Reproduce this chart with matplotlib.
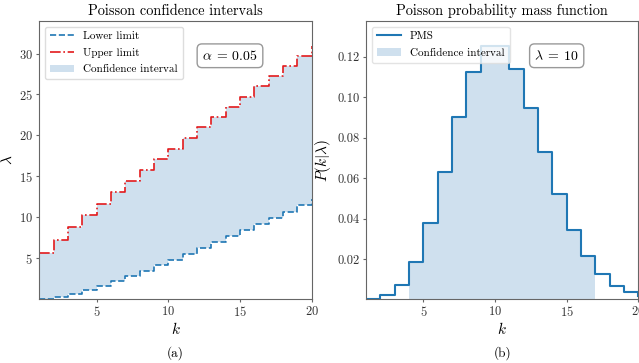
import numpy as np
import matplotlib
matplotlib.use('Agg')
import matplotlib.pyplot as plt

plt.rcParams['font.family'] = 'serif'
plt.rcParams['font.serif'] = ['cmr10', 'DejaVu Serif']
plt.rcParams['mathtext.fontset'] = 'cm'
plt.rcParams['axes.formatter.use_mathtext'] = True
plt.rcParams['axes.unicode_minus'] = False

# Poisson confidence limits (alpha = 0.05) for k = 1..20
k = np.arange(1, 21)
lower = [0.0253, 0.242, 0.619, 1.090, 1.623, 2.202, 2.814, 3.454, 4.115, 4.795,
         5.491, 6.201, 6.922, 7.654, 8.395, 9.145, 9.903, 10.668, 11.439, 12.217]
upper = [5.572, 7.225, 8.767, 10.242, 11.668, 13.059, 14.423, 15.763, 17.085, 18.390,
         19.682, 20.962, 22.230, 23.490, 24.740, 25.983, 27.219, 28.448, 29.671, 30.888]

# Poisson pmf, lambda = 10, k = 1..20
pmf = [0.000454, 0.00227, 0.00757, 0.01892, 0.03783, 0.06306, 0.09008, 0.1126, 0.1251, 0.1251,
       0.1137, 0.09478, 0.07291, 0.05208, 0.03472, 0.0217, 0.01276, 0.00709, 0.00373, 0.00187]
ci_lo, ci_hi = 4, 17

fill_color = '#cfe0ee'
spine_color = '#666666'

fig = plt.figure(figsize=(6.39, 3.63), dpi=100)
ax1 = fig.add_axes([0.0615, 0.1763, 0.4263, 0.7658])
ax2 = fig.add_axes([0.5728, 0.1763, 0.4263, 0.7658])

# (a) confidence intervals
ax1.step(k, lower, where='post', color='#1f77b4', ls='--', lw=1.2, label='Lower limit')
ax1.step(k, upper, where='post', color='#e31a1c', ls='-.', lw=1.2, label='Upper limit')
ax1.fill_between(k, lower, upper, step='post', color=fill_color, lw=0,
                 label='Confidence interval')
ax1.set_xlim(1, 20)
ax1.set_ylim(0, max(upper) * 1.1)
ax1.set_xticks([5, 10, 15, 20])
ax1.set_yticks([5, 10, 15, 20, 25, 30])
ax1.set_xlabel('$k$', fontsize=11, labelpad=1)
ax1.set_ylabel(r'$\lambda$', fontsize=11, labelpad=3)
ax1.set_title('Poisson confidence intervals', fontsize=10.3, pad=4)
ax1.legend(loc='upper left', fontsize=8, framealpha=1, edgecolor='#dddddd',
           handlelength=2.2, borderpad=0.45, labelspacing=0.6)
ax1.text(0.70, 0.875, r'$\alpha\:=\:0.05$', transform=ax1.transAxes, fontsize=10,
         ha='center', va='center',
         bbox=dict(boxstyle='round,pad=0.35', fc='white', ec='#999999'))
ax1.text(0.5, -0.17, '(a)', transform=ax1.transAxes, fontsize=9.5, ha='center', va='top')

# (b) pmf
ax2.step(k, pmf, where='post', color='#1f77b4', lw=1.5, label='PMS')
kk = np.arange(ci_lo, ci_hi + 1)
ax2.fill_between(kk, pmf[ci_lo - 1:ci_hi], step='post', color=fill_color, lw=0,
                 label='Confidence interval')
ax2.set_xlim(1, 20)
ax2.set_ylim(min(pmf), max(pmf) * 1.1)
ax2.set_xticks([5, 10, 15, 20])
ax2.set_yticks([0.02, 0.04, 0.06, 0.08, 0.10, 0.12])
ax2.set_yticklabels(['0.02', '0.04', '0.06', '0.08', '0.10', '0.12'])
ax2.set_xlabel('$k$', fontsize=11, labelpad=1)
ax2.set_ylabel(r'$P(k|\lambda)$', fontsize=11, labelpad=3)
ax2.set_title('Poisson probability mass function', fontsize=10.3, pad=4)
ax2.legend(loc='upper left', fontsize=8, framealpha=0.8, edgecolor='#dddddd',
           handlelength=2.2, borderpad=0.45, labelspacing=0.6)
ax2.text(0.70, 0.875, r'$\lambda\:=\:10$', transform=ax2.transAxes, fontsize=10,
         ha='center', va='center',
         bbox=dict(boxstyle='round,pad=0.35', fc='white', ec='#999999'))
ax2.text(0.5, -0.17, '(b)', transform=ax2.transAxes, fontsize=9.5, ha='center', va='top')

for ax in (ax1, ax2):
    for s in ax.spines.values():
        s.set_color(spine_color)
    ax.tick_params(labelsize=9, length=2.5, pad=2, color=spine_color, labelcolor='#333333')

fig.savefig('out.png', dpi=100)
